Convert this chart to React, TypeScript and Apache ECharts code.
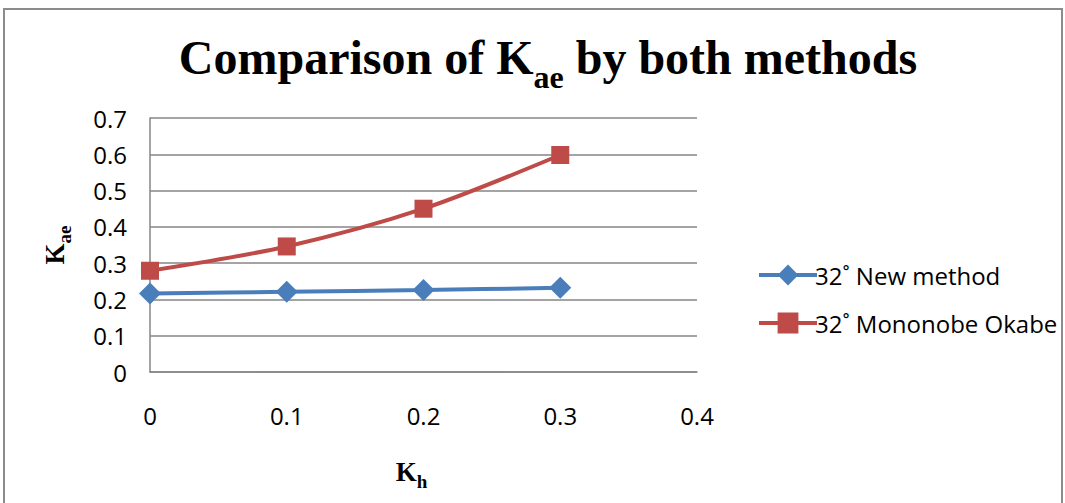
import React, { useEffect, useRef } from "react";
import * as echarts from "echarts";

const xValues = [0, 0.1, 0.2, 0.3];
const newMethod = [0.216, 0.221, 0.226, 0.232];
const mononobeOkabe = [0.279, 0.346, 0.45, 0.598];
const seriesNames = ["32˚ New method", "32˚ Mononobe Okabe"];

export default function App() {
  const ref = useRef<HTMLDivElement>(null);
  useEffect(() => {
    if (!ref.current) return;
    const chart = echarts.init(ref.current, null, { renderer: "svg" });
    const serif = "Liberation Serif";
    const sans = "Open Sans";
    const nameRich = {
      m: { fontFamily: serif, fontWeight: "bold", fontSize: 27, color: "#000", verticalAlign: "bottom", padding: [0, 0, 6, 0] },
      s: { fontFamily: serif, fontWeight: "bold", fontSize: 19, color: "#000", verticalAlign: "bottom" },
    };
    chart.setOption({
      animation: false,
      backgroundColor: "#ffffff",
      graphic: [
        {
          type: "rect",
          shape: { x: 4, y: 9, width: 1058, height: 500 },
          style: { fill: "none", stroke: "#8c8c8c", lineWidth: 2 },
          silent: true,
        },
      ],
      title: {
        text: "{m|Comparison of K}{s|ae}{m| by both methods}",
        left: 543,
        textAlign: "center",
        top: 28,
        textStyle: {
          rich: {
            m: { fontFamily: serif, fontWeight: "bold", fontSize: 48, color: "#000", verticalAlign: "bottom", padding: [0, 0, 12, 0] },
            s: { fontFamily: serif, fontWeight: "bold", fontSize: 32, color: "#000", verticalAlign: "bottom" },
          },
        },
      },
      legend: {
        orient: "vertical",
        left: 752,
        top: 258,
        itemGap: 24,
        itemWidth: 58,
        itemHeight: 26,
        lineStyle: { width: 4 },
        textStyle: { fontFamily: sans, fontSize: 24, color: "#000", padding: [0, 0, 0, -7] },
        data: seriesNames,
      },
      grid: { left: 150, right: 368, top: 118, bottom: 131 },
      xAxis: {
        type: "value",
        min: 0,
        max: 0.4,
        interval: 0.1,
        name: "{m|K}{s|h}",
        nameLocation: "middle",
        nameGap: 86,
        nameTextStyle: { rich: nameRich, padding: [0, 24, 0, 0] },
        axisLine: { show: true, lineStyle: { color: "#868686", width: 1.5 } },
        axisTick: { show: false },
        splitLine: { show: false },
        axisLabel: { fontFamily: sans, fontSize: 24, color: "#000", margin: 31 },
      },
      yAxis: {
        type: "value",
        min: 0,
        max: 0.7,
        interval: 0.1,
        name: "{m|K}{s|ae}",
        nameLocation: "middle",
        nameRotate: 90,
        nameGap: 76,
        nameTextStyle: { rich: nameRich },
        axisLine: { show: true, lineStyle: { color: "#868686", width: 1.5 } },
        axisTick: { show: false },
        splitLine: { show: true, lineStyle: { color: "#868686", width: 1.5 } },
        axisLabel: { fontFamily: sans, fontSize: 24, color: "#000", margin: 23 },
      },
      series: [
        {
          name: seriesNames[0],
          type: "line",
          data: xValues.map((x, i) => [x, newMethod[i]]),
          symbol: "diamond",
          symbolSize: 22,
          lineStyle: { color: "#4A7EBB", width: 4 },
          itemStyle: { color: "#4A7EBB" },
          smooth: 0.3,
        },
        {
          name: seriesNames[1],
          type: "line",
          data: xValues.map((x, i) => [x, mononobeOkabe[i]]),
          symbol: "rect",
          symbolSize: 18,
          lineStyle: { color: "#BE4B48", width: 4 },
          itemStyle: { color: "#BE4B48" },
          smooth: 0.3,
        },
      ],
    });
    return () => chart.dispose();
  }, []);
  return <div ref={ref} style={{ width: 1065, height: 503, position: "absolute", left: 0, top: 0 }} />;
}
